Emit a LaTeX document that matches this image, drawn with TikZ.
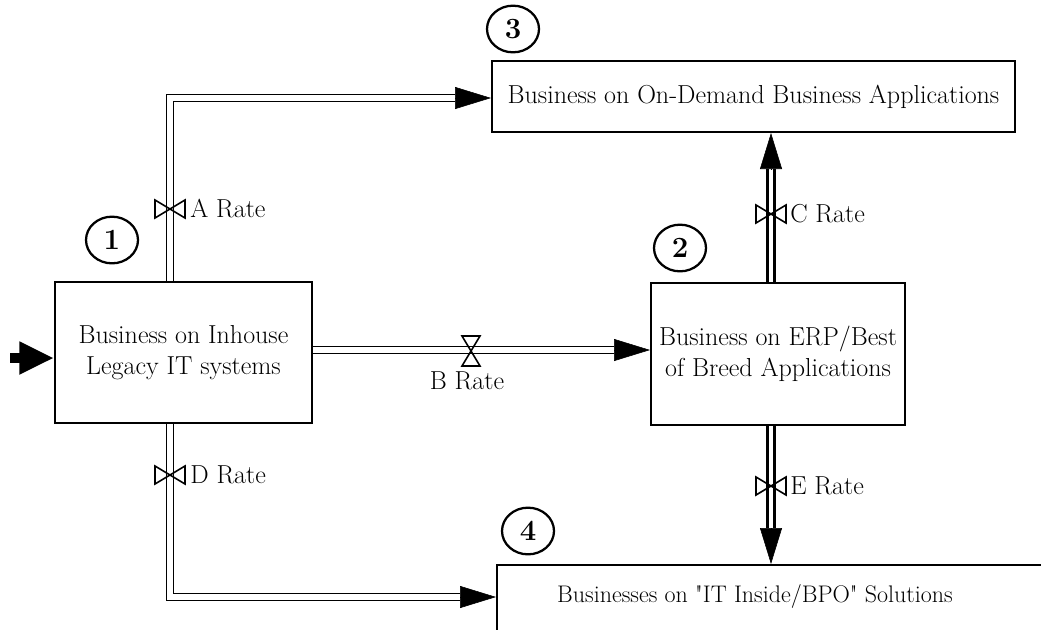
\documentclass[tikz,border=0pt]{standalone}
\usetikzlibrary{arrows.meta,calc,shapes.geometric}
\begin{document}
\begin{tikzpicture}[x=0.75pt,y=-0.75pt,
  every node/.style={font=\fontsize{19.5}{23}\selectfont},
  box/.style={draw, line width=1.5pt, rectangle, inner sep=0pt, align=center},
  num/.style={draw, ellipse, line width=1.7pt, minimum width=39pt, minimum height=35pt, inner sep=0pt, font=\fontsize{22}{22}\selectfont\bfseries},
  pipe/.style={double, line width=1.3pt, double distance=3.8pt},
  pipebold/.style={double, line width=1.9pt, double distance=3.5pt},
  tip/.style={line width=0.4pt, -{Triangle[length=27pt,width=16.5pt]}},
  inflow/.style={line width=7.5pt, -{Triangle[length=26pt,width=23pt]}},
  rate/.style={anchor=west, inner sep=0pt},
  valve/.pic={\draw[line width=1.2pt] (-15,-9) -- (15,9) -- (15,-9) -- (-15,9) -- cycle;}
]
\useasboundingbox (0,0) rectangle (1041,629);

% stocks
\node[box, minimum width=192.75pt, minimum height=105.75pt] (b1) at (183.5,352.5) {Business on Inhouse\\Legacy IT systems};
\node[box, minimum width=190.5pt, minimum height=106.5pt] (b2) at (778,354) {Business on ERP/Best\\of Breed Applications};
\node[box, minimum width=392.25pt, minimum height=53.25pt] (b3) at (753.5,96.5) {Business on On-Demand Business Applications};
\node[box, anchor=north west, minimum width=450pt, minimum height=80pt] (b4) at (496,564) {};
\node[font=\fontsize{18}{22}\selectfont] (t4) at (755,596) {Businesses on \textquotedbl IT Inside/BPO\textquotedbl{} Solutions};

% numbers
\node[num] (n1) at (112,240) {1};
\node[num] (n2) at (680,248) {2};
\node[num] (n3) at (513,29) {3};
\node[num] (n4) at (528,531) {4};

% reference coordinates
\coordinate (ax) at (170,98);
\coordinate (by) at (0,350);
\coordinate (cx) at (771,0);
\coordinate (dy) at (0,597);

% A flow
\coordinate (aend) at ($(b3.west |- ax)+(-36,0)$);
\draw[pipe] (b1.north -| ax) |- (aend);
\draw[tip] (aend) -- (b3.west |- ax);

% B flow
\coordinate (bend) at ($(b2.west |- by)+(-36,0)$);
\draw[pipe] (b1.east |- by) -- (bend);
\draw[tip] (bend) -- (b2.west |- by);

% C flow
\coordinate (cend) at ($(b3.south -| cx)+(0,36)$);
\draw[pipebold] (b2.north -| cx) -- (cend);
\draw[tip] (cend) -- (b3.south -| cx);

% D flow
\coordinate (dend) at ($(b4.west |- dy)+(-36,0)$);
\draw[pipe] (b1.south -| ax) |- (dend);
\draw[tip] (dend) -- (b4.west |- dy);

% E flow
\coordinate (eend) at ($(b4.north -| cx)+(0,-36)$);
\draw[pipebold] (b2.south -| cx) -- (eend);
\draw[tip] (eend) -- (b4.north -| cx);

% inflow
\coordinate (in) at (10,358);
\draw[inflow] (in) -- (b1.west |- in);

% valves and rates
\pic at (170,209) {valve};
\node[rate] (la) at (190,209) {A Rate};
\pic[rotate=90] at (471,351) {valve};
\node (lb) at (467,381) {B Rate};
\pic at (771,214) {valve};
\node[rate] (lc) at (790,214) {C Rate};
\pic at (170,475) {valve};
\node[rate] (ld) at (190,475) {D Rate};
\pic at (771,486) {valve};
\node[rate] (le) at (790,486) {E Rate};
\end{tikzpicture}
\end{document}
